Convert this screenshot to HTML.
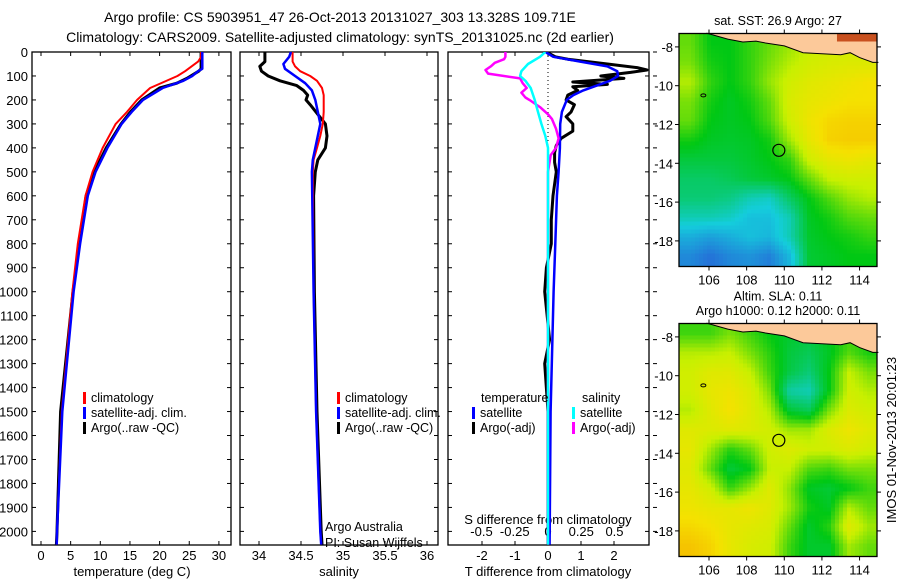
<!DOCTYPE html>
<html><head><meta charset="utf-8">
<style>
body{margin:0;background:#fff;}
svg{display:block;font-family:"Liberation Sans",sans-serif;}
</style></head>
<body>
<svg id="chart" width="900" height="580" viewBox="0 0 900 580" xmlns="http://www.w3.org/2000/svg">
<defs><clipPath id="clip3"><rect x="448" y="52" width="201" height="493"/></clipPath></defs>
<text x="340" y="22" font-size="14" text-anchor="middle">Argo profile: CS 5903951_47 26-Oct-2013 20131027_303 13.328S 109.71E</text>
<text x="340" y="42" font-size="14" text-anchor="middle">Climatology: CARS2009. Satellite-adjusted climatology: synTS_20131025.nc (2d earlier)</text>
<g id="p1"></g>
<g id="p2"></g>
<g id="p3"></g>
<g id="m1"></g>
<g id="m2"></g>
<text transform="translate(896,440) rotate(-90)" font-size="13" text-anchor="middle">IMOS 01-Nov-2013 20:01:23</text>
</svg>
<script>
// ---------- data ----------
const depthTicks=[0,100,200,300,400,500,600,700,800,900,1000,1100,1200,1300,1400,1500,1600,1700,1800,1900,2000];
const tempTicks=[0,5,10,15,20,25,30];
const salTicks=[34,34.5,35,35.5,36];
const tdiffTicks=[-2,-1,0,1,2];
const sdiffTicks=[-0.5,-0.25,0,0.25,0.5];
const tdiffTickLabels=["-2","-1","0","1","2"];
const sdiffTickLabels=["-0.5","-0.25","0","0.25","0.5"];

const tClimD=[0,20,40,80,100,150,200,250,300,400,500,600,800,1000,1500,2000,2055];
const tClimV=[27,27,26.5,24.3,23,18.4,16.2,14.5,12.6,10.4,8.7,7.5,6.2,5.3,3.5,2.7,2.65];
const tSatD=[0,70,80,100,120,150,200,250,300,400,500,600,800,1000,1500,2000,2055];
const tSatV=[27.2,27.2,26.5,25.5,24,20.5,17.2,15.3,13.6,11.2,9.2,7.9,6.6,5.5,3.6,2.7,2.65];
const tArgoD=[0,70,80,110,130,150,200,250,300,400,500,600,800,1000,1500,2000,2055];
const tArgoV=[27,27,26.6,24.6,22.9,20,17,15.1,13.5,11,9,7.6,6.5,5.4,3.3,2.7,2.6];

const sClimD=[0,40,60,80,100,120,150,180,250,300,350,400,450,500,1000,1500,2000,2055];
const sClimV=[34.4,34.4,34.43,34.49,34.61,34.69,34.75,34.77,34.77,34.76,34.73,34.69,34.65,34.64,34.65,34.68,34.73,34.74];
const sSatD=[0,20,50,70,100,130,160,200,250,300,350,400,450,500,1000,1500,2000,2055];
const sSatV=[34.38,34.36,34.29,34.31,34.43,34.55,34.63,34.67,34.7,34.73,34.7,34.67,34.64,34.63,34.65,34.68,34.73,34.74];
const sArgoD=[0,40,60,80,100,120,140,160,180,200,220,260,300,350,400,450,500,600,1000,1500,2000,2055];
const sArgoV=[34.07,34.07,34.01,34.03,34.11,34.25,34.45,34.53,34.58,34.56,34.61,34.7,34.79,34.81,34.79,34.7,34.67,34.65,34.66,34.69,34.74,34.75];

const dTSatD=[0,20,40,60,80,100,120,140,160,180,200,250,300,400,500,600,800,1000,1500,2055];
const dTSatV=[-0.08,0.16,0.98,1.8,2.1,2.12,1.88,1.48,1.07,0.77,0.57,0.42,0.37,0.36,0.32,0.27,0.22,0.17,0.08,0.05];
const dTArgoD=[0,20,30,50,65,75,85,100,110,125,135,145,160,180,200,220,250,270,300,330,360,390,420,460,500,600,700,800,900,1000,1200,1300,1500,2055];
const dTArgoV=[-0.05,0.22,0.6,1.8,2.7,3.0,2.5,1.6,2.3,0.75,1.8,0.75,0.9,0.6,0.55,0.8,0.7,0.55,0.75,0.75,0.4,0.25,0.2,0.2,0.25,0.15,0.1,0.1,-0.05,-0.1,0.05,-0.1,0,0];
const dSSatD=[0,20,50,80,100,120,150,200,250,300,350,400,500,2055];
const dSSatV=[-0.02,-0.06,-0.15,-0.2,-0.21,-0.17,-0.13,-0.1,-0.075,-0.05,-0.02,0,0,0];
const dSArgoD=[0,20,30,45,60,75,90,110,130,150,170,190,200,230,260,280,320,360,400,430,500,2055];
const dSArgoV=[-0.32,-0.32,-0.33,-0.4,-0.43,-0.47,-0.45,-0.21,-0.19,-0.16,-0.2,-0.17,-0.14,-0.06,0,0.03,0.06,0.08,0.06,0.02,0,0];

// map grids: rows lat -7.8..-18.8, cols lon 104.5..115 (normalized 0..1)
const sstGrid=[
[.6,.5,.5,.55,.6,.65,.7,.72,.72,.72],
[.62,.52,.5,.55,.62,.68,.72,.74,.75,.75],
[.68,.55,.5,.55,.65,.72,.76,.78,.8,.82],
[.62,.52,.48,.52,.6,.74,.78,.8,.82,.82],
[.6,.5,.48,.5,.58,.72,.8,.84,.85,.85],
[.52,.48,.47,.48,.52,.66,.78,.85,.86,.86],
[.45,.45,.45,.47,.5,.55,.72,.78,.8,.78],
[.4,.4,.42,.45,.47,.5,.6,.7,.72,.72],
[.38,.38,.36,.3,.28,.4,.5,.58,.65,.68],
[.3,.3,.28,.22,.22,.3,.48,.52,.58,.6],
[.18,.15,.18,.22,.2,.3,.47,.5,.52,.55],
[.1,.05,.1,.12,.08,.2,.46,.48,.5,.5]];
const slaGrid=[
[.56,.56,.62,.56,.5,.47,.45,.5,.56,.56],
[.68,.68,.7,.62,.54,.45,.42,.48,.58,.52],
[.72,.76,.76,.7,.56,.44,.38,.5,.7,.62],
[.72,.78,.8,.75,.62,.32,.3,.5,.72,.68],
[.68,.76,.82,.76,.68,.46,.42,.62,.75,.72],
[.76,.75,.76,.75,.72,.66,.66,.75,.8,.76],
[.78,.66,.54,.6,.72,.75,.72,.72,.75,.72],
[.76,.6,.45,.5,.7,.7,.58,.56,.62,.62],
[.78,.72,.55,.65,.76,.64,.48,.46,.5,.56],
[.8,.78,.78,.8,.76,.66,.52,.48,.68,.6],
[.84,.82,.78,.76,.74,.6,.47,.54,.76,.66],
[.88,.85,.78,.74,.72,.56,.47,.47,.66,.6]];
const coastLon=[105.9,107,107.8,108.5,109,110,111,112,113,113.5,114,114.7,115];
const coastLat=[-7.3,-7.6,-7.75,-7.7,-7.8,-7.95,-8.3,-8.35,-8.4,-8.3,-8.55,-8.8,-8.8];
const lonTicks=[106,108,110,112,114];
const latTicks=[-8,-10,-12,-14,-16,-18];
const argoLon=109.71, argoLat=-13.33;

// ---------- helpers ----------
const NS="http://www.w3.org/2000/svg";
function mk(parent,tag,attrs){const e=document.createElementNS(NS,tag);for(const k in attrs)e.setAttribute(k,attrs[k]);parent.appendChild(e);return e;}
const TOP=52,BOT=545;
const yD=d=>TOP+d*0.2397;

function frame(g,x0,x1,name){
  const r=mk(g,'rect',{x:x0,y:TOP,width:x1-x0,height:BOT-TOP,fill:'none',stroke:'#000','stroke-width':1.3});
  
  
  depthTicks.forEach(d=>{mk(g,'line',{x1:x0,x2:x0+4,y1:yD(d),y2:yD(d),stroke:'#000'});mk(g,'line',{x1:x1,x2:x1-4,y1:yD(d),y2:yD(d),stroke:'#000'});});
}
function xticks(g,vals,labels,xf,name){
  vals.forEach((v,i)=>{const x=xf(v);
    mk(g,'line',{x1:x,x2:x,y1:BOT,y2:BOT-4,stroke:'#000'});mk(g,'line',{x1:x,x2:x,y1:TOP,y2:TOP+4,stroke:'#000'});
    const t=mk(g,'text',{x:x,y:560,'font-size':13,'text-anchor':'middle'});t.textContent=labels[i];
    
    
  });
}
function line(g,D,V,xf,color,w,name,clip){
  let s='';D.forEach((d,i)=>{s+=(i?'L':'M')+xf(V[i]).toFixed(1)+','+yD(d).toFixed(1);});
  const p=mk(g,'path',{d:s,fill:'none',stroke:color,'stroke-width':w,'stroke-linejoin':'round'});
  if(clip)p.setAttribute('clip-path','url(#clip3)');
  
  
}
function legend(g,x,y,color,label,name){
  mk(g,'rect',{x:x,y:y-10,width:3,height:12,fill:color});
  const t=mk(g,'text',{x:x+8,y:y,'font-size':12.5});t.textContent=label;
  
  
}
function txt(g,x,y,s,anchor,name,size){const t=mk(g,'text',{x:x,y:y,'font-size':size||13,'text-anchor':anchor||'start'});t.textContent=s;
  
  return t;}

// ---------- panel 1 ----------
const p1=document.getElementById('p1');
const xT=v=>41+v*5.93;
frame(p1,32,231,'temperature-frame');
depthTicks.forEach(d=>txt(p1,28,yD(d)+5,String(d),'end','depth-tick-label'));
xticks(p1,tempTicks,tempTicks.map(String),xT,'temperature-tick-label');
txt(p1,132,576,'temperature (deg C)','middle','temperature-axis-title');
line(p1,tArgoD,tArgoV,xT,'#000',3,'temperature-argo-line');
line(p1,tClimD,tClimV,xT,'#f00',2,'temperature-climatology-line');
line(p1,tSatD,tSatV,xT,'#00f',2.5,'temperature-satellite-line');
legend(p1,83,402,'#f00','climatology','legend-climatology');
legend(p1,83,417,'#00f','satellite-adj. clim.','legend-satellite');
legend(p1,83,432,'#000','Argo(..raw -QC)','legend-argo');

// ---------- panel 2 ----------
const p2=document.getElementById('p2');
const xS=v=>259+(v-34)*84;
frame(p2,240,438,'salinity-frame');
xticks(p2,salTicks,salTicks.map(String),xS,'salinity-tick-label');
txt(p2,339,576,'salinity','middle','salinity-axis-title');
line(p2,sArgoD,sArgoV,xS,'#000',3,'salinity-argo-line');
line(p2,sClimD,sClimV,xS,'#f00',2,'salinity-climatology-line');
line(p2,sSatD,sSatV,xS,'#00f',2.5,'salinity-satellite-line');
legend(p2,337,402,'#f00','climatology','legend-climatology-s');
legend(p2,337,417,'#00f','satellite-adj. clim.','legend-satellite-s');
legend(p2,337,432,'#000','Argo(..raw -QC)','legend-argo-s');
txt(p2,325,531,'Argo Australia','start','argo-australia-note',12.5);
txt(p2,325,547,'PI: Susan Wijffels','start','pi-note',12.5);

// ---------- panel 3 ----------
const p3=document.getElementById('p3');
const xdT=v=>548+v*33;
const xdS=v=>548+v*133;
frame(p3,448,649,'difference-frame');
depthTicks.forEach(d=>mk(p3,'line',{x1:653,x2:657,y1:yD(d),y2:yD(d),stroke:'#000'}));
mk(p3,'line',{x1:548,x2:548,y1:TOP,y2:BOT,stroke:'#000','stroke-dasharray':'1,3'});
xticks(p3,tdiffTicks,tdiffTickLabels,xdT,'tdiff-tick-label');
sdiffTicks.forEach((v,i)=>{txt(p3,xdS(v),536,sdiffTickLabels[i],'middle','sdiff-tick-label');});
txt(p3,548,524,'S difference from climatology','middle','sdiff-axis-title');
txt(p3,548,576,'T difference from climatology','middle','tdiff-axis-title');
line(p3,dTArgoD,dTArgoV,xdT,'#000',3,'tdiff-argo-line',true);
line(p3,dTSatD,dTSatV,xdT,'#00f',2.5,'tdiff-satellite-line',true);
line(p3,dSArgoD,dSArgoV,xdS,'#f0f',2.5,'sdiff-argo-line',true);
line(p3,dSSatD,dSSatV,xdS,'#0ff',2.5,'sdiff-satellite-line',true);
txt(p3,481,402,'temperature','start','legend-temperature-heading',12.5);
txt(p3,582,402,'salinity','start','legend-salinity-heading',12.5);
legend(p3,472,417,'#00f','satellite','legend-t-satellite');
legend(p3,472,432,'#000','Argo(-adj)','legend-t-argo');
legend(p3,572,417,'#0ff','satellite','legend-s-satellite');
legend(p3,572,432,'#f0f','Argo(-adj)','legend-s-argo');

// ---------- maps ----------
const stops=[[0,[40,90,215]],[0.25,[20,205,220]],[0.5,[0,200,20]],[0.7,[200,240,0]],[0.82,[245,225,0]],[0.92,[245,175,0]],[1,[200,60,0]]];
function cmap(v){v=Math.max(0,Math.min(1,v));for(let i=1;i<stops.length;i++){if(v<=stops[i][0]){const a=stops[i-1],b=stops[i],t=(v-a[0])/(b[0]-a[0]);return 'rgb('+a[1].map((c,k)=>Math.round(c+(b[1][k]-c)*t)).join(',')+')';}}return 'rgb(200,60,0)';}
function drawMap(id,grid,top,title,cell){
  const g=document.getElementById(id);
  const L=679,R=877,B=top+233;
  const lonX=lo=>709+(lo-106)*18.82;
  const latY=la=>top+13.4+(-8-la)*19.4;
  const lon0=104.5,lon1=115,lat0=-7.3,lat1=-19.3;
  const nr=grid.length,nc=grid[0].length;
  function val(lo,la){
    let c=(lo-lon0)/(lon1-lon0)*nc-0.5, r=(lat0-la)/(lat0-lat1)*nr-0.5;
    c=Math.max(0,Math.min(nc-1,c));r=Math.max(0,Math.min(nr-1,r));
    const c0=Math.floor(c),r0=Math.floor(r),c1=Math.min(nc-1,c0+1),r1=Math.min(nr-1,r0+1),fc=c-c0,fr=r-r0;
    return (grid[r0][c0]*(1-fc)+grid[r0][c1]*fc)*(1-fr)+(grid[r1][c0]*(1-fc)+grid[r1][c1]*fc)*fr;
  }
  const cg=mk(g,'g',{});
  
  
  for(let y=top;y<B;y+=cell){for(let x=L;x<R;x+=cell){
    const lo=106+(x+cell/2-709)/18.82, la=-8-(y+cell/2-top-13.4)/19.4;
    mk(cg,'rect',{x:x,y:y,width:Math.min(cell,R-x)+0.3,height:Math.min(cell,B-y)+0.3,fill:cmap(val(lo,la))});
  }}
  let s='M'+lonX(105.9).toFixed(1)+','+top;coastLon.forEach((lo,i)=>{s+='L'+lonX(lo).toFixed(1)+','+latY(coastLat[i]).toFixed(1);});s+='L'+R+','+latY(-8.8).toFixed(1)+'L'+R+','+top+'Z';
  const land=mk(g,'path',{d:s,fill:'#fcc99a',stroke:'#000','stroke-width':1});
  
  
  if(id==='m1'){mk(g,'rect',{x:lonX(112.8),y:top,width:R-lonX(112.8),height:8,fill:'#c8501e'});}
  mk(g,'ellipse',{cx:lonX(105.7),cy:latY(-10.5),rx:2.5,ry:1.5,fill:'none',stroke:'#000'});
  const c=mk(g,'circle',{cx:lonX(argoLon),cy:latY(argoLat),r:6,fill:'none',stroke:'#000','stroke-width':1.2});
  
  
  mk(g,'rect',{x:L,y:top,width:R-L,height:B-top,fill:'none',stroke:'#000','stroke-width':1.3});
  lonTicks.forEach(lo=>{const x=lonX(lo);mk(g,'line',{x1:x,x2:x,y1:B,y2:B+4,stroke:'#000'});mk(g,'line',{x1:x,x2:x,y1:top,y2:top-4,stroke:'#000'});
    txt(g,x,B+18,String(lo),'middle','longitude-tick-label');});
  latTicks.forEach(la=>{const y=latY(la);mk(g,'line',{x1:L,x2:L-4,y1:y,y2:y,stroke:'#000'});mk(g,'line',{x1:R,x2:R+4,y1:y,y2:y,stroke:'#000'});
    txt(g,L-6,y+5,String(la),'end','latitude-tick-label');});
  title.forEach((t,i)=>txt(g,778,top-(title.length-i)*14.5+6,t,'middle','map-title',12.5));
}
drawMap('m1',sstGrid,33.5,['sat. SST: 26.9 Argo: 27'],4);
drawMap('m2',slaGrid,323.5,['Altim. SLA: 0.11','Argo h1000: 0.12 h2000: 0.11'],4);
</script>
</body></html>
